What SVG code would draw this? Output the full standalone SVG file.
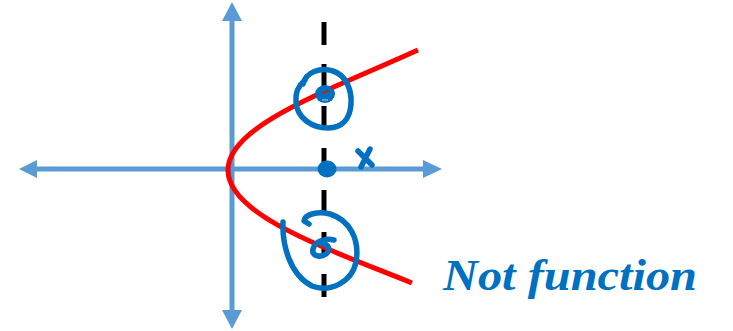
<svg xmlns="http://www.w3.org/2000/svg" width="733" height="331" viewBox="0 0 733 331">
<style>
.axis{stroke:#5B9BD5;stroke-width:5;fill:none}
.head{fill:#5B9BD5}
.ink{stroke:#0070C0;stroke-width:5.5;fill:none;stroke-linecap:round;stroke-linejoin:round}
.dot{fill:#0070C0}
</style>
<rect width="733" height="331" fill="#fff"/>
<g id="axes">
<line class="axis" x1="37" y1="169" x2="424" y2="169"/>
<line class="axis" x1="232" y1="20" x2="232" y2="311"/>
<polygon class="head" points="19,169 37,160 37,178"/>
<polygon class="head" points="442,169 423,160 423,178"/>
<polygon class="head" points="232,2 222,21 242,21"/>
<polygon class="head" points="232,329 222,310 242,310"/>
</g>
<g id="dashed-line">
<line x1="324" y1="22" x2="324" y2="297" stroke="#000" stroke-width="5" stroke-dasharray="23 19"/>
</g>
<g id="curve">
<path d="M418,50 C330,90 228,125 228,170 C228,215 325,248 412,283" stroke="#FF0000" stroke-width="5" fill="none"/>
</g>
<g id="marks">
<path class="ink" d="M303,84 C306,72 320,67 333,71 C346,75 352,90 351,104 C350,119 342,128 328,128 C312,128 297,118 296,102 C295,92 299,85 305,80"/>
<ellipse class="dot" cx="325" cy="94" rx="10" ry="9"/>
<line x1="322" y1="93" x2="329" y2="91" stroke="#FF0000" stroke-width="1.5"/>
<line x1="322" y1="100" x2="328" y2="100" stroke="#9CC3E6" stroke-width="1.2"/>
<ellipse class="dot" cx="327" cy="169" rx="9.5" ry="8.5"/>
<path class="ink" d="M358,151 L372,165 M370,149 L361,167"/>
<path class="ink" d="M283,222 C282,245 290,275 312,286 C330,293 352,282 356,262 C360,240 350,220 330,214 C318,211 305,214 304,221 L309,224"/>
<path class="ink" d="M334,240 C325,238 315,241 313,249 C311,256 320,258 326,254 C331,250 329,244 322,244"/>
</g>
<g id="label">
<text x="443" y="290" font-family="Liberation Serif, serif" font-style="italic" font-weight="bold" font-size="44" fill="#0070C0" textLength="254" lengthAdjust="spacingAndGlyphs">Not function</text>
</g>
</svg>
